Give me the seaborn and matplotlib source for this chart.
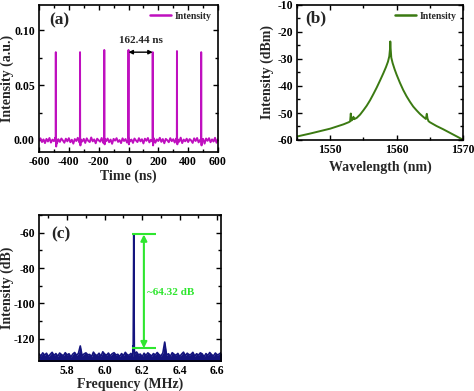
import numpy as np
import pandas as pd
import matplotlib
matplotlib.use("Agg")
import matplotlib.pyplot as plt
from matplotlib.ticker import MultipleLocator, FormatStrFormatter
import seaborn as sns

# ---------------- data ----------------
# (a) pulse train
time_grid_a = np.arange(-600, 601, 10)
noise_a = [  # baseline noise, units of 1.6e-3
    -0.4, 0.9, -1.2, 0.3, -1.8, 0.6, -0.9, 1.1, -1.5, 0.2,
    -0.7, 1.3, -2.0, 0.4, -1.1, 0.8, -0.3, -1.6, 0.7, -0.8,
    1.0, -1.3, 0.1, -2.1, 0.5, -0.6, 1.2, -1.4, 0.0, -0.9,
    0.6, -1.7, 0.9, -0.5, -1.2, 1.4, -0.8, 0.3, -1.9, 0.7,
    -0.2, -1.0, 1.1, -1.6, 0.4, -0.7, 0.8, -1.3, 0.2, -2.2,
    0.6, -0.4, 1.0, -1.1, -0.1, -1.8, 0.9, -0.6, 0.5, -1.5,
    1.3, -0.9, 0.2, -1.7, 0.8, -0.3, -1.2, 1.0, -0.8, 0.4,
    -2.0, 0.7, -0.5, 1.1, -1.4, 0.1, -0.9, 0.9, -1.6, 0.3,
    -0.6, 1.2, -1.1, 0.5, -1.9, 0.6, -0.2, -1.3, 1.0, -0.7,
    0.4, -1.5, 0.8, -0.4, -1.0, 1.3, -1.8, 0.2, -0.8, 0.7,
    -1.2, 0.5, -0.3, -1.7, 0.9, -0.6, 1.1, -1.4, 0.0, -1.0,
    0.6, -2.1, 0.8, -0.5, 1.0, -1.3, 0.3, -0.9, 1.2, -1.6,
    0.4,
]
pulse_times = [-487.3, -324.9, -162.4, 0.0, 162.4, 324.9, 487.3]
pulse_peaks = [0.080, 0.080, 0.082, 0.082, 0.080, 0.081, 0.080]
pulse_dips = [-0.006, -0.005, -0.004, -0.004, -0.005, -0.004, -0.005]
period_label = "162.44 ns"

# (b) optical spectrum
wl_b = [1545.0, 1547.0, 1549.0, 1550.0, 1551.0, 1552.0, 1552.8, 1553.0, 1553.1, 1553.2,
        1553.4, 1553.5, 1553.6, 1554.0, 1554.5, 1555.0, 1555.5, 1556.0, 1556.5, 1557.0,
        1557.5, 1558.0, 1558.4, 1558.7, 1558.9, 1559.0, 1559.05, 1559.1, 1559.2, 1559.4,
        1559.7, 1560.0, 1560.5, 1561.0, 1561.5, 1562.0, 1562.5, 1563.0, 1563.5, 1564.0,
        1564.4, 1564.55, 1564.65, 1564.8, 1565.0, 1566.0, 1567.0, 1568.0, 1569.0, 1570.0]
int_b = [-58.7, -57.6, -56.4, -55.8, -55.0, -54.2, -53.4, -53.1, -50.2, -52.8,
         -52.2, -51.4, -52.3, -51.8, -50.6, -49.0, -47.3, -45.3, -43.0, -40.6,
         -38.0, -35.3, -33.0, -31.0, -29.0, -26.5, -23.5, -26.0, -29.5, -31.5,
         -33.8, -35.8, -38.8, -41.5, -43.8, -45.8, -47.6, -49.0, -50.3, -51.4,
         -52.2, -50.3, -52.0, -53.0, -53.4, -54.8, -56.0, -57.3, -58.6, -59.9]

# (c) RF spectrum
freq_grid_c = np.round(np.arange(5.65, 6.645, 0.01), 3)
noise_c = [
    -128.5, -129.6, -127.9, -129.2, -128.1, -130.0, -128.7, -127.6, -129.4, -128.3,
    -129.8, -128.0, -128.9, -129.5, -127.8, -129.1, -128.4, -130.2, -128.6, -127.7,
    -129.3, -128.2, -124.0, -129.7, -128.5, -127.9, -129.0, -128.8, -130.1, -127.5,
    -128.9, -129.4, -128.1, -129.9, -127.3, -128.6, -129.2, -128.0, -129.6, -128.4,
    -127.8, -129.1, -128.7, -130.0, -128.3, -129.5, -127.6, -128.9, -129.3, -128.2,
    -129.8, -128.5, -127.4, -129.0, -128.6, -130.1, -128.1, -129.4, -127.9, -128.8,
    -129.7, -128.3, -129.1, -127.7, -128.9, -129.6, -128.0, -121.8, -129.2, -128.4,
    -129.9, -127.8, -128.7, -129.3, -128.2, -130.0, -128.6, -127.5, -129.5, -128.1,
    -129.0, -128.8, -127.6, -129.7, -128.4, -129.2, -127.9, -128.5, -130.1, -128.3,
    -129.4, -127.7, -128.9, -129.6, -128.0, -129.1, -128.6, -127.8, -129.8, -128.2,
]
peak_freq = [6.150, 6.152, 6.155, 6.158]
peak_level = [-124.0, -126.0, -61.0, -126.0]
snr_top, snr_bottom = -61.0, -125.3
snr_label = "~64.32 dB"

# ---------------- build series ----------------
t_a = list(time_grid_a)
y_a = [v * 1.6e-3 for v in noise_a]
for tp, pk, dp in zip(pulse_times, pulse_peaks, pulse_dips):
    t_a += [tp - 0.8, tp, tp + 0.8, tp + 2.5, tp + 5.0]
    y_a += [-0.0008, pk, 0.002, dp, 0.0005]
df_a = pd.DataFrame({"t": t_a, "y": y_a}).sort_values("t")

df_b = pd.DataFrame({"wl": wl_b, "y": int_b})

f_c = list(freq_grid_c) + peak_freq
y_c = list(noise_c) + peak_level
df_c = pd.DataFrame({"f": f_c, "y": y_c}).sort_values("f")

# ---------------- style ----------------
sns.set_theme(style="ticks")
plt.rcParams["font.family"] = ["Liberation Serif", "DejaVu Sans"]
plt.rcParams["font.weight"] = "bold"
plt.rcParams["axes.labelweight"] = "bold"
plt.rcParams["axes.unicode_minus"] = False
plt.rcParams["axes.linewidth"] = 1.2
plt.rcParams["axes.edgecolor"] = "black"

fig = plt.figure(figsize=(4.74, 3.91), dpi=100)
W, H = 474, 391
LABEL_FS = 10


def add_ax(l, r, t, b):
    return fig.add_axes([l / W, 1 - b / H, (r - l) / W, (b - t) / H])


def style(ax, xmaj, xmin, ymaj, ymin):
    ax.xaxis.set_major_locator(MultipleLocator(xmaj))
    ax.xaxis.set_minor_locator(MultipleLocator(xmin))
    ax.yaxis.set_major_locator(MultipleLocator(ymaj))
    ax.yaxis.set_minor_locator(MultipleLocator(ymin))
    ax.tick_params(which="both", direction="in", top=True, right=True,
                   labelsize=8.5, width=1.0, colors="black")
    ax.tick_params(which="major", length=3.5, pad=3)
    ax.tick_params(which="minor", length=2)
    for lab in ax.get_xticklabels() + ax.get_yticklabels():
        lab.set_fontweight("bold")
    for s in ax.spines.values():
        s.set_visible(True)
        s.set_color("black")


# (a)
ax_a = add_ax(39, 218, 5, 152)
col_a = "#BF10BF"
sns.lineplot(data=df_a, x="t", y="y", ax=ax_a, color=col_a, linewidth=1.4,
             sort=False, estimator=None, label="Intensity")
ax_a.set_xlim(-600, 600)
ax_a.set_ylim(-0.011, 0.123)
style(ax_a, 200, 100, 0.05, 0.025)
ax_a.yaxis.set_major_formatter(FormatStrFormatter("%.2f"))
ax_a.set_xlabel("Time (ns)", fontsize=LABEL_FS, fontweight="bold", labelpad=1)
ax_a.set_ylabel("Intensity (a.u.)", fontsize=LABEL_FS, fontweight="bold")
ax_a.yaxis.set_label_coords((14 - 39) / 179, 0.5)
ax_a.text(0.06, 0.87, "(a)", transform=ax_a.transAxes, fontsize=12.5, fontweight="bold")
ax_a.annotate("", xy=(pulse_times[3], 0.080), xytext=(pulse_times[4], 0.080),
              arrowprops=dict(arrowstyle="<|-|>", color="black", lw=1.0,
                              mutation_scale=6, shrinkA=0, shrinkB=0))
ax_a.text((pulse_times[3] + pulse_times[4]) / 2, 0.0865, period_label,
          ha="center", va="bottom", fontsize=8, fontweight="bold")
leg = ax_a.legend(loc="upper right", frameon=False, fontsize=7, handlelength=2.2,
                  borderaxespad=0.3, handletextpad=0.3)
for txt in leg.get_texts():
    txt.set_fontweight("bold")
for ln in leg.get_lines():
    ln.set_linewidth(1.8)

# (b)
ax_b = add_ax(297, 463, 5, 140)
col_b = "#3B7A12"
sns.lineplot(data=df_b, x="wl", y="y", ax=ax_b, color=col_b, linewidth=1.4,
             sort=False, estimator=None, label="Intensity")
ax_b.set_xlim(1545, 1570)
ax_b.set_ylim(-60, -10)
style(ax_b, 10, 5, 10, 5)
ax_b.set_xlabel("Wavelength (nm)", fontsize=LABEL_FS, fontweight="bold", labelpad=3)
ax_b.set_ylabel("Intensity (dBm)", fontsize=LABEL_FS, fontweight="bold", labelpad=2)
ax_b.text(0.05, 0.87, "(b)", transform=ax_b.transAxes, fontsize=12.5, fontweight="bold")
leg = ax_b.legend(loc="upper right", frameon=False, fontsize=7, handlelength=2.2,
                  borderaxespad=0.3, handletextpad=0.3)
for txt in leg.get_texts():
    txt.set_fontweight("bold")
for ln in leg.get_lines():
    ln.set_linewidth(1.8)

# (c)
ax_c = add_ax(39, 221, 215, 361)
col_c = "#14147E"
ax_c.fill_between(df_c["f"], df_c["y"], -140, color=col_c, linewidth=0)
sns.lineplot(data=df_c, x="f", y="y", ax=ax_c, color=col_c, linewidth=1.2,
             sort=False, estimator=None)
ax_c.set_xlim(5.65, 6.62)
ax_c.set_ylim(-132.5, -50)
style(ax_c, 0.2, 0.1, 20, 10)
ax_c.xaxis.set_major_formatter(FormatStrFormatter("%.1f"))
ax_c.set_xlabel("Frequency (MHz)", fontsize=LABEL_FS, fontweight="bold", labelpad=0)
ax_c.set_ylabel("Intensity (dB)", fontsize=LABEL_FS, fontweight="bold")
ax_c.yaxis.set_label_coords((14 - 39) / 182, 0.5)
ax_c.text(0.07, 0.84, "(c)", transform=ax_c.transAxes, fontsize=12.5, fontweight="bold")
green = "#2EE62E"
ax_c.hlines([snr_top, snr_bottom], 6.143, 6.271, colors=green, linewidth=1.5)
ax_c.annotate("", xy=(6.209, snr_top), xytext=(6.209, snr_bottom),
              arrowprops=dict(arrowstyle="<|-|>", color=green, lw=1.5,
                              mutation_scale=9, shrinkA=0, shrinkB=0))
ax_c.text(6.225, (snr_top + snr_bottom) / 2 - 0.5, snr_label, color=green,
          fontsize=8, fontweight="bold", va="center", ha="left")

fig.savefig("out.png", dpi=100)
